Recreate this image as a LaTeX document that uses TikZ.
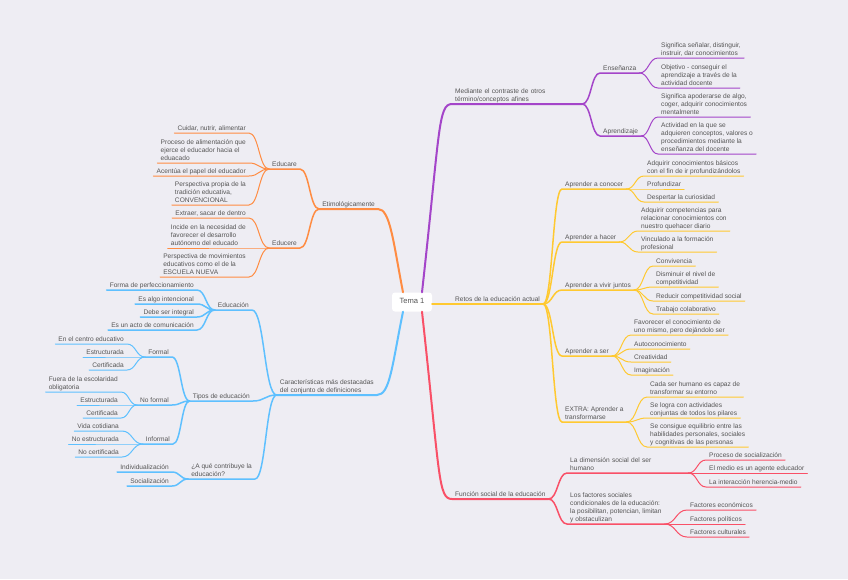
\documentclass[tikz,border=0pt]{standalone}
\usepackage{fontspec}
\setmainfont{Liberation Sans}
\usetikzlibrary{calc, positioning}

\definecolor{bg}{RGB}{238,237,243}
\definecolor{txt}{RGB}{85,85,85}
\definecolor{cpurple}{RGB}{164,69,201}
\definecolor{cyellow}{RGB}{255,201,48}
\definecolor{cred}{RGB}{249,80,103}
\definecolor{corange}{RGB}{255,140,66}
\definecolor{cblue}{RGB}{94,192,255}

\tikzset{
  topic/.style={font=\fontsize{6.6}{8}\selectfont, text=txt, inner xsep=3pt, inner ysep=1.2pt, text depth=1.5pt, align=left},
  rtopic/.style={topic, anchor=south west},
  ltopic/.style={topic, anchor=south east},
  widetopic/.style={rtopic, text width=#1, text depth=, inner ysep=1.4pt},
  lvlone/.style={line width=2pt, line cap=round},
  lvltwo/.style={line width=1.5pt, line cap=round},
  lvlthree/.style={line width=1pt, line cap=round},
  link/.style={to path={let \p1=(\tikztostart), \p2=(\tikztotarget), \n1={0.5*(\x2-\x1)}, \n2={-0.5*(\x2-\x1)} in .. controls +(\n1,0) and +(\n2,0) .. (\tikztotarget)}},
}

\begin{document}
\begin{tikzpicture}[x=1pt, y=-1pt]
    \fill[bg] (0,0) rectangle (848,579);
    \useasboundingbox (0,0) rectangle (848,579);

    \node[topic, font=\fontsize{7.6}{9}\selectfont, fill=white, rounded corners=3pt, minimum width=40pt, minimum height=19pt] (tema) at (412,302) {Tema 1};

    % right side
    \node[widetopic=124pt] (mediante) at (452,104) {Mediante el contraste de otros\\término/conceptos afines};
    \node[rtopic] (ensenanza) at (600,73) {Enseñanza};
    \node[rtopic] (aprendizaje) at (600,136) {Aprendizaje};
    \node[rtopic] (ens1) at (658,58) {Significa señalar, distinguir,\\instruir, dar conocimientos};
    \node[rtopic] (ens2) at (658,88) {Objetivo - conseguir el\\aprendizaje a través de la\\actividad docente};
    \node[rtopic] (apr1) at (658,117) {Significa apoderarse de algo,\\coger, adquirir conocimientos\\mentalmente};
    \node[rtopic] (apr2) at (658,154) {Actividad en la que se\\adquieren conceptos, valores o\\procedimientos mediante la\\enseñanza del docente};

    \node[rtopic] (retos) at (452,304) {Retos de la educación actual};
    \node[rtopic] (conocer) at (562,189) {Aprender a conocer};
    \node[rtopic] (hacer) at (562,242) {Aprender a hacer};
    \node[rtopic] (vivir) at (562,290) {Aprender a vivir juntos};
    \node[rtopic] (ser) at (562,356) {Aprender a ser};
    \node[rtopic] (extra) at (562,422) {EXTRA: Aprender a\\transformarse};
    \node[rtopic] (con1) at (644,176) {Adquirir conocimientos básicos\\con el fin de ir profundizándolos};
    \node[rtopic] (con2) at (644,189) {Profundizar};
    \node[rtopic] (con3) at (644,202) {Despertar la curiosidad};
    \node[rtopic] (hac1) at (638,231) {Adquirir competencias para\\relacionar conocimientos con\\nuestro quehacer diario};
    \node[rtopic] (hac2) at (638,252) {Vinculado a la formación\\profesional};
    \node[rtopic] (viv1) at (653,266) {Convivencia};
    \node[rtopic] (viv2) at (653,287) {Disminuir el nivel de\\competitividad};
    \node[rtopic] (viv3) at (653,301) {Reducir competitividad social};
    \node[rtopic] (viv4) at (653,314) {Trabajo colaborativo};
    \node[rtopic] (ser1) at (631,335) {Favorecer el conocimiento de\\uno mismo, pero dejándolo ser};
    \node[rtopic] (ser2) at (631,349) {Autoconocimiento};
    \node[rtopic] (ser3) at (631,362) {Creatividad};
    \node[rtopic] (ser4) at (631,375) {Imaginación};
    \node[rtopic] (ext1) at (647,397) {Cada ser humano es capaz de\\transformar su entorno};
    \node[rtopic] (ext2) at (647,418) {Se logra con actividades\\conjuntas de todos los pilares};
    \node[rtopic] (ext3) at (647,447) {Se consigue equilibrio entre las\\habilidades personales, sociales\\y cognitivas de las personas};

    \node[rtopic] (funcion) at (452,499) {Función social de la educación};
    \node[widetopic=115pt, inner ysep=2.6pt] (dimension) at (567,473) {La dimensión social del ser\\humano};
    \node[rtopic] (factores) at (567,524) {Los factores sociales\\condicionales de la educación:\\la posibilitan, potencian, limitan\\y obstaculizan};
    \node[rtopic] (dim1) at (706,460) {Proceso de socialización};
    \node[rtopic] (dim2) at (706,473) {El medio es un agente educador};
    \node[rtopic] (dim3) at (706,487) {La interacción herencia-medio};
    \node[rtopic] (fac1) at (687,510) {Factores económicos};
    \node[rtopic] (fac2) at (687,524) {Factores políticos};
    \node[rtopic] (fac3) at (687,537) {Factores culturales};

    % left side
    \node[ltopic] (etim) at (378,209) {Etimológicamente};
    \node[ltopic] (educare) at (300,169) {Educare};
    \node[ltopic] (educere) at (300,248) {Educere};
    \node[ltopic] (care1) at (249,133) {Cuidar, nutrir, alimentar};
    \node[ltopic] (care2) at (249,163) {Proceso de alimentación que\\ejerce el educador hacia el\\eduacado};
    \node[ltopic] (care3) at (249,176) {Acentúa el papel del educador};
    \node[ltopic] (care4) at (249,205) {Perspectiva propia de la\\tradición educativa,\\CONVENCIONAL};
    \node[ltopic] (cere1) at (249,218) {Extraer, sacar de dentro};
    \node[ltopic] (cere2) at (249,248) {Incide en la necesidad de\\favorecer el desarrollo\\autónomo del educado};
    \node[ltopic] (cere3) at (249,277) {Perspectiva de movimientos\\educativos como el de la\\ESCUELA NUEVA};

    \node[ltopic] (caract) at (377,395) {Características más destacadas\\del conjunto de definiciones};
    \node[ltopic] (educacion) at (252,310) {Educación};
    \node[ltopic] (tipos) at (253,401) {Tipos de educación};
    \node[ltopic] (contrib) at (255,479) {¿A qué contribuye la\\educación?};
    \node[ltopic] (edu1) at (197,290) {Forma de perfeccionamiento};
    \node[ltopic] (edu2) at (197,304) {Es algo intencional};
    \node[ltopic] (edu3) at (197,317) {Debe ser integral};
    \node[ltopic] (edu4) at (197,330) {Es un acto de comunicación};
    \node[ltopic] (formal) at (172,357) {Formal};
    \node[ltopic] (noformal) at (172,405) {No formal};
    \node[ltopic] (informal) at (173,444) {Informal};
    \node[ltopic] (for1) at (127,344) {En el centro educativo};
    \node[ltopic] (for2) at (127,357) {Estructurada};
    \node[ltopic] (for3) at (127,370) {Certificada};
    \node[ltopic] (nof1) at (121,392) {Fuera de la escolaridad\\obligatoria};
    \node[ltopic] (nof2) at (121,405) {Estructurada};
    \node[ltopic] (nof3) at (121,418) {Certificada};
    \node[ltopic] (inf1) at (122,431) {Vida cotidiana};
    \node[ltopic] (inf2) at (122,444) {No estructurada};
    \node[ltopic] (inf3) at (122,457) {No certificada};
    \node[ltopic] (ctb1) at (172,472) {Individualización};
    \node[ltopic] (ctb2) at (172,486) {Socialización};

    % purple branch
    \begin{scope}[draw=cpurple]
        \draw[lvlone] ([xshift=10pt]tema.north) .. controls +(18,-162) and +(-14,0) .. (mediante.south west) -- (mediante.south east);
        \foreach \c in {ensenanza,aprendizaje}
            \draw[lvltwo] (mediante.south east) to[link] (\c.south west) -- (\c.south east);
        \foreach \c in {ens1,ens2}
            \draw[lvlthree] (ensenanza.south east) to[link] (\c.south west) -- (\c.south east);
        \foreach \c in {apr1,apr2}
            \draw[lvlthree] (aprendizaje.south east) to[link] (\c.south west) -- (\c.south east);
    \end{scope}

    % yellow branch
    \begin{scope}[draw=cyellow]
        \draw[lvlone] (tema.east |- retos.south west) -- (retos.south east);
        \foreach \c in {conocer,hacer,vivir,ser,extra}
            \draw[lvltwo] (retos.south east) to[link] (\c.south west) -- (\c.south east);
        \foreach \a/\c in {conocer/con1,conocer/con2,conocer/con3,hacer/hac1,hacer/hac2,
                           vivir/viv1,vivir/viv2,vivir/viv3,vivir/viv4,
                           ser/ser1,ser/ser2,ser/ser3,ser/ser4,extra/ext1,extra/ext2,extra/ext3}
            \draw[lvlthree] (\a.south east) to[link] (\c.south west) -- (\c.south east);
    \end{scope}

    % red branch
    \begin{scope}[draw=cred]
        \draw[lvlone] ([xshift=10pt]tema.south) .. controls +(18,164) and +(-14,0) .. (funcion.south west) -- (funcion.south east);
        \foreach \c in {dimension,factores}
            \draw[lvltwo] (funcion.south east) to[link] (\c.south west) -- (\c.south east);
        \foreach \a/\c in {dimension/dim1,dimension/dim2,dimension/dim3,factores/fac1,factores/fac2,factores/fac3}
            \draw[lvlthree] (\a.south east) to[link] (\c.south west) -- (\c.south east);
    \end{scope}

    % orange branch
    \begin{scope}[draw=corange]
        \draw[lvlone] ([xshift=-9pt]tema.north) .. controls +(-10,-52) and +(12,0) .. (etim.south east) -- (etim.south west);
        \foreach \c in {educare,educere}
            \draw[lvltwo] (etim.south west) to[link] (\c.south east) -- (\c.south west);
        \foreach \a/\c in {educare/care1,educare/care2,educare/care3,educare/care4,
                           educere/cere1,educere/cere2,educere/cere3}
            \draw[lvlthree] (\a.south west) to[link] (\c.south east) -- (\c.south west);
    \end{scope}

    % blue branch
    \begin{scope}[draw=cblue]
        \draw[lvlone] ([xshift=-9pt]tema.south) .. controls +(-11,54) and +(13,0) .. (caract.south east) -- (caract.south west);
        \foreach \c in {educacion,tipos,contrib}
            \draw[lvltwo] (caract.south west) to[link] (\c.south east) -- (\c.south west);
        \foreach \a/\c in {educacion/edu1,educacion/edu2,educacion/edu3,educacion/edu4,
                           tipos/formal,tipos/noformal,tipos/informal,contrib/ctb1,contrib/ctb2}
            \draw[lvltwo] (\a.south west) to[link] (\c.south east) -- (\c.south west);
        \foreach \a/\c in {formal/for1,formal/for2,formal/for3,noformal/nof1,noformal/nof2,noformal/nof3,
                           informal/inf1,informal/inf2,informal/inf3}
            \draw[lvlthree] (\a.south west) to[link] (\c.south east) -- (\c.south west);
    \end{scope}
\end{tikzpicture}
\end{document}
